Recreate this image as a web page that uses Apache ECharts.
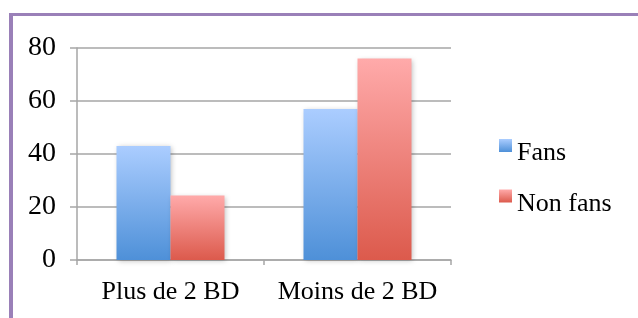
<!DOCTYPE html>
<html>
<head>
<meta charset="utf-8">
<script src="https://cdn.jsdelivr.net/npm/echarts@6/dist/echarts.min.js"></script>
<style>
  html, body { margin: 0; padding: 0; background: #fff; }
  #frame {
    position: absolute; left: 9px; top: 13px; width: 629px; height: 305px;
    border-top: 3px solid #9a80b8; border-left: 4px solid #9a80b8;
    box-sizing: border-box;
  }
  #chart { position: absolute; left: 0; top: 0; width: 638px; height: 318px; }
</style>
</head>
<body>
<div id="frame"></div>
<div id="chart"></div>
<script>
  const categories = ['Plus de 2 BD', 'Moins de 2 BD'];
  const fans = [43, 57];
  const nonFans = [24.3, 76];
  const yTicks = [0, 20, 40, 60, 80];

  const font = '"Liberation Serif", "DejaVu Serif", serif';
  const grad = (top, bottom) => new echarts.graphic.LinearGradient(0, 0, 0, 1, [
    { offset: 0, color: top },
    { offset: 1, color: bottom }
  ]);

  const chart = echarts.init(document.getElementById('chart'));
  chart.setOption({
    animation: false,
    grid: { left: 77, right: 187, top: 48, bottom: 58 },
    legend: {
      orient: 'vertical',
      left: 499,
      top: 139,
      padding: 0,
      itemWidth: 13,
      itemHeight: 13,
      itemGap: 23,
      icon: 'rect',
      formatter: name => '{t|' + name + '}',
      textStyle: {
        fontFamily: font, fontSize: 26, color: '#000',
        rich: { t: { fontFamily: font, fontSize: 26, color: '#000', padding: [16, 0, 0, 0] } }
      },
      data: ['Fans', 'Non fans']
    },
    xAxis: {
      type: 'category',
      data: categories,
      axisLine: { lineStyle: { color: '#a6a6a6', width: 1.5 } },
      axisTick: { show: true, length: 5, lineStyle: { color: '#a6a6a6', width: 1.5 } },
      axisLabel: {
        interval: 0, hideOverlap: false,
        fontFamily: font, fontSize: 26, color: '#000', margin: 19
      }
    },
    yAxis: {
      type: 'value',
      min: yTicks[0],
      max: yTicks[yTicks.length - 1],
      interval: 20,
      axisLine: { show: true, lineStyle: { color: '#a6a6a6', width: 1.5 } },
      axisTick: { show: true, length: 7, lineStyle: { color: '#a6a6a6', width: 1.5 } },
      splitLine: { lineStyle: { color: '#a6a6a6', width: 1.5 } },
      axisLabel: { fontFamily: font, fontSize: 28, color: '#000', margin: 21 }
    },
    series: [{
      name: 'Fans',
      type: 'bar',
      data: fans,
      barWidth: 54,
      barGap: '0%',
      itemStyle: {
        color: grad('#abcdff', '#4e90d8'),
        shadowColor: 'rgba(0,0,0,0.25)', shadowBlur: 5, shadowOffsetX: 1, shadowOffsetY: 1
      }
    }, {
      name: 'Non fans',
      type: 'bar',
      data: nonFans,
      barWidth: 54,
      itemStyle: {
        color: grad('#ffaaaa', '#dc5a4c'),
        shadowColor: 'rgba(0,0,0,0.25)', shadowBlur: 5, shadowOffsetX: 1, shadowOffsetY: 1
      }
    }]
  });
</script>
</body>
</html>
